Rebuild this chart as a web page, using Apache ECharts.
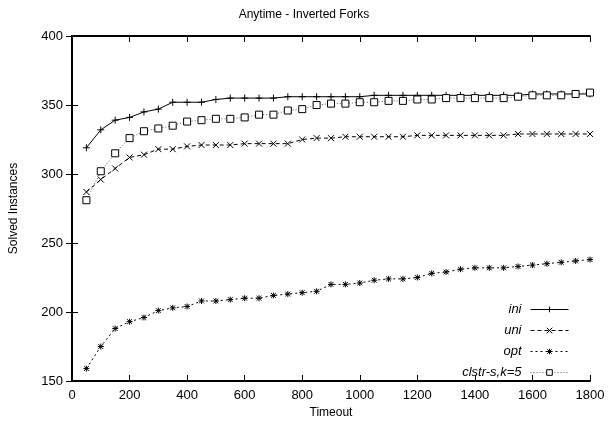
<!DOCTYPE html>
<html>
<head>
<meta charset="utf-8">
<script src="https://cdn.jsdelivr.net/npm/echarts@6/dist/echarts.min.js"></script>
<style>
  html, body { margin: 0; padding: 0; background: #fff; }
  #main { width: 608px; height: 424px; }
</style>
</head>
<body>
<div id="main"></div>
<script>
const timeouts = [50, 100, 150, 200, 250, 300, 350, 400, 450, 500, 550, 600, 650, 700, 750, 800, 850, 900,
  950, 1000, 1050, 1100, 1150, 1200, 1250, 1300, 1350, 1400, 1450, 1500, 1550, 1600, 1650, 1700, 1750, 1800];

const ini = [319, 332, 339, 341, 345, 347, 352, 352, 352, 354, 355, 355, 355, 355, 356, 356, 356, 356,
  356, 356, 357, 357, 357, 357, 357, 357, 357, 357, 357, 357, 357, 358, 358, 358, 358, 358];
const uni = [287, 296, 304, 312, 314, 318, 318, 320, 321, 321, 321, 322, 322, 322, 322, 325, 326, 326,
  327, 327, 327, 327, 327, 328, 328, 328, 328, 328, 328, 328, 329, 329, 329, 329, 329, 329];
const opt = [159, 175, 188, 193, 196, 201, 203, 204, 208, 208, 209, 210, 210, 212, 213, 214, 215, 220,
  220, 221, 223, 224, 224, 225, 228, 229, 231, 232, 232, 232, 233, 234, 235, 236, 237, 238];
const clstr = [281, 302, 315, 326, 331, 333, 335, 338, 339, 340, 340, 341, 343, 343, 346, 347, 350, 351,
  351, 352, 352, 353, 353, 354, 354, 355, 355, 355, 355, 355, 356, 357, 357, 357, 358, 359];

const xTicks = { min: 0, max: 1800, interval: 200 };
const yTicks = { min: 150, max: 400, interval: 50 };

const font = "Liberation Sans";

function pairs(vals) {
  return timeouts.map((t, i) => [t, vals[i]]);
}

// gnuplot-ish point types
const plusSym = "path://M5,0L5,10M0,5L10,5";
const crossSym = "path://M0,0L10,10M10,0L0,10";
const starSym = "path://M5,0L5,10M0,5L10,5M1,1L9,9M9,1L1,9";

function mkSeries(name, vals, symbol, size, lineType, lineColor) {
  return {
    name: name,
    type: "line",
    data: pairs(vals),
    symbol: symbol,
    symbolSize: size,
    showAllSymbol: true,
    animation: false,
    lineStyle: { color: lineColor, width: 1, type: lineType },
    itemStyle: { color: symbol === "rect" ? "#fff" : "#000", borderColor: "#000", borderWidth: 1 },
    emphasis: { disabled: true },
  };
}

const chart = echarts.init(document.getElementById("main"));

const axisCommon = {
  axisLine: { show: true, lineStyle: { color: "#000", width: 2 } },
  axisTick: { show: true, inside: true, length: 6, lineStyle: { color: "#000", width: 1 } },
  splitLine: { show: false },
};

chart.setOption({
  animation: false,
  title: {
    text: "Anytime - Inverted Forks",
    left: "center",
    top: 4,
    textStyle: { fontFamily: font, fontSize: 12, fontWeight: "normal", color: "#000" },
  },
  grid: { left: 72, right: 18, top: 36, bottom: 42 },
  legend: {
    orient: "vertical",
    right: 34,
    top: 298,
    align: "right",
    itemWidth: 38,
    itemHeight: 7,
    itemGap: 8,
    lineStyle: { width: 1 },
    itemStyle: { borderWidth: 1 },
    textStyle: { fontFamily: font, fontSize: 13, fontStyle: "italic", color: "#000", padding: [0, 4, 0, 0] },
    data: ["ini", "uni", "opt", "clstr-s,k=5"],
  },
  xAxis: [
    Object.assign({
      type: "value",
      min: xTicks.min, max: xTicks.max, interval: xTicks.interval,
      name: "Timeout",
      nameLocation: "middle",
      nameGap: 26,
      nameTextStyle: { fontFamily: font, fontSize: 12, color: "#000" },
      axisLabel: { fontFamily: font, fontSize: 13, color: "#000", margin: 8, formatter: (v) => String(v) },
    }, axisCommon),
    Object.assign({
      type: "value", position: "top",
      min: xTicks.min, max: xTicks.max, interval: xTicks.interval,
      axisLabel: { show: false },
    }, axisCommon),
  ],
  yAxis: [
    Object.assign({
      type: "value",
      min: yTicks.min, max: yTicks.max, interval: yTicks.interval,
      name: "Solved Instances",
      nameLocation: "middle",
      nameGap: 52,
      nameTextStyle: { fontFamily: font, fontSize: 12, color: "#000" },
      axisLabel: { fontFamily: font, fontSize: 13, color: "#000", margin: 9, formatter: (v) => String(v) },
    }, axisCommon),
    Object.assign({
      type: "value", position: "right",
      min: yTicks.min, max: yTicks.max, interval: yTicks.interval,
      axisLabel: { show: false },
    }, axisCommon),
  ],
  series: [
    mkSeries("ini", ini, plusSym, 7, "solid", "#000"),
    mkSeries("uni", uni, crossSym, 6, [4, 3], "#000"),
    mkSeries("opt", opt, starSym, 6, [2, 3], "#000"),
    mkSeries("clstr-s,k=5", clstr, "rect", 7, [1, 2], "#555"),
  ],
});
</script>
</body>
</html>
